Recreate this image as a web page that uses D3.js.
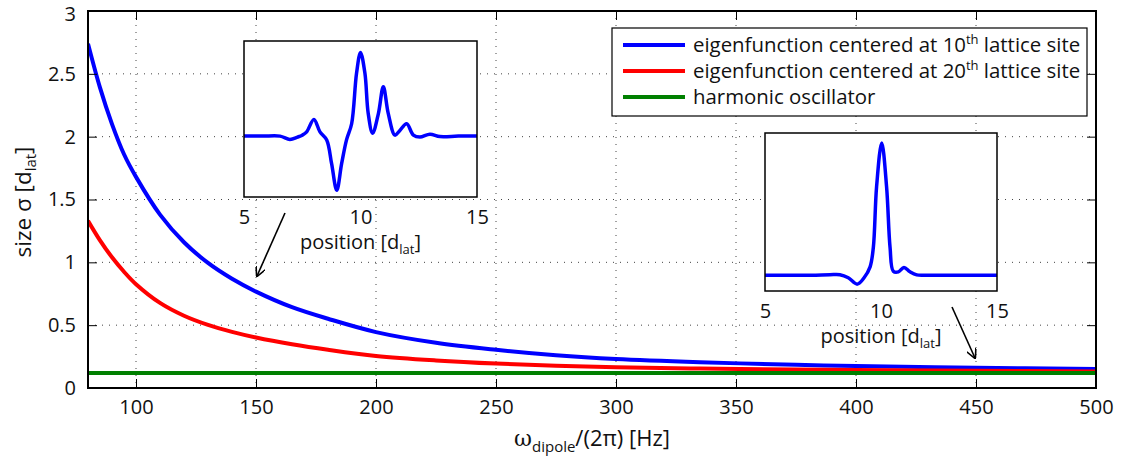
<!DOCTYPE html>
<html><head><meta charset="utf-8">
<script src="https://cdn.jsdelivr.net/npm/d3@7"></script>
<style>
body{margin:0;background:#fff;}
text{font-family:"Open Sans",sans-serif;fill:#111;}
</style></head>
<body><svg id="c" width="1123" height="461"></svg>
<script>
// ---- data ----
const freq = [80,85,90,95,100,110,120,130,140,150,165,180,200,225,250,275,300,335,375,400,450,500];
const sigma10 = [2.74,2.39,2.10,1.86,1.68,1.38,1.16,0.995,0.869,0.767,0.643,0.551,0.445,0.36,0.304,0.26,0.23,0.205,0.185,0.175,0.161,0.151];
const sigma20 = [1.331,1.175,1.04,0.925,0.826,0.677,0.575,0.502,0.447,0.402,0.348,0.304,0.255,0.219,0.194,0.177,0.165,0.155,0.147,0.143,0.137,0.132];
const sigmaHO = [0.119,0.119,0.119,0.119,0.119,0.119,0.119,0.119,0.119,0.119,0.119,0.119,0.119,0.119,0.119,0.119,0.119,0.119,0.119,0.119,0.119,0.119];
const xTicks = [100,150,200,250,300,350,400,450,500];
const yTicks = [0,0.5,1,1.5,2,2.5,3];
const seriesNames = ["eigenfunction centered at 10","eigenfunction centered at 20","harmonic oscillator"];
const seriesColors = ["#0000ff","#ff0000","#008000"];

const inset1Pos = [5,5.8,6.55,6.97,7.3,7.5,7.69,8.0,8.26,8.55,8.76,8.98,9.19,9.4,9.62,9.83,10.0,10.19,10.33,10.52,10.77,10.98,11.19,11.48,11.69,11.98,12.27,12.55,12.98,13.41,14.2,15];
const inset1Val = [0,0,0,-0.035,-0.01,0.01,0.045,0.175,0.045,-0.04,-0.29,-0.57,-0.29,-0.04,0.13,0.66,0.88,0.66,0.24,0.03,0.24,0.52,0.24,0.01,0.06,0.13,0.01,-0.01,0.02,-0.005,0,0];
const inset2Pos = [5,6,7,7.8,8.23,8.59,8.98,9.27,9.53,9.67,9.81,10.03,10.24,10.39,10.53,10.75,10.99,11.25,11.54,12,13,14,15];
const inset2Val = [0,0,0,0.003,0.003,-0.02,-0.068,-0.02,0.063,0.21,0.67,1.0,0.67,0.21,0.03,0.025,0.058,0.025,0.002,0,0,0,0];
const insetTicks = [5,10,15];

// ---- layout ----
const svg = d3.select("#c");
const L=88, R=1096, T=11, B=388;
const x = d3.scaleLinear().domain([80,500]).range([L,R]);
const y = d3.scaleLinear().domain([0,3]).range([B,T]);
const FS = 20;

// grid
const grid = svg.append("g").attr("stroke","#444").attr("stroke-width",1).attr("stroke-dasharray","1,6");
xTicks.filter(v=>v<500).forEach(v=>grid.append("line").attr("x1",x(v)).attr("x2",x(v)).attr("y1",T).attr("y2",B));
yTicks.filter(v=>v>0&&v<3).forEach(v=>grid.append("line").attr("x1",L).attr("x2",R).attr("y1",y(v)).attr("y2",y(v)));

// curves
svg.append("clipPath").attr("id","pc").append("rect").attr("x",L).attr("y",T).attr("width",R-L).attr("height",B-T);
const line = d3.line().x((d,i)=>x(freq[i])).y(d=>y(d)).curve(d3.curveCatmullRom.alpha(0.5));
[sigma10,sigma20,sigmaHO].forEach((s,k)=>{
  svg.append("path").attr("d",line(s)).attr("fill","none").attr("stroke",seriesColors[k]).attr("stroke-width",4).attr("clip-path","url(#pc)");
});

// axes box and ticks
const ax = svg.append("g");
const xb = d3.axisBottom(x).tickValues(xTicks).tickSize(-9).tickPadding(12).tickFormat(d3.format("d"));
const xt = d3.axisTop(x).tickValues(xTicks).tickSize(-9).tickFormat("");
const yl = d3.axisLeft(y).tickValues(yTicks).tickSize(-9).tickPadding(12).tickFormat(d=>d);
const yr = d3.axisRight(y).tickValues(yTicks).tickSize(-9).tickFormat("");
function style(g){g.selectAll(".domain").remove();g.selectAll("line").attr("stroke","#000").attr("stroke-width",1);g.selectAll("text").attr("font-size",FS).attr("font-family","Open Sans").attr("fill","#111");}
ax.append("g").attr("transform",`translate(0,${B})`).call(xb).call(style);
ax.append("g").attr("transform",`translate(0,${T})`).call(xt).call(style);
ax.append("g").attr("transform",`translate(${L},0)`).call(yl).call(style).selectAll("text").filter(d=>d===3).attr("dy","0.45em");
ax.append("rect").attr("x",L).attr("y",T).attr("width",R-L).attr("height",B-T).attr("fill","none").attr("stroke","#000").attr("stroke-width",2);
ax.append("g").attr("transform",`translate(${R},0)`).call(yr).call(style);

// axis labels
const xl = svg.append("text").attr("x",592).attr("y",446).attr("text-anchor","middle").attr("font-size",22);
xl.append("tspan").text("ω").attr("font-family","DejaVu Serif");
xl.append("tspan").text("dipole").attr("font-size",15).attr("dy",6);
xl.append("tspan").text("/(2π) [Hz]").attr("dy",-6);
const ylab = svg.append("text").attr("transform","translate(31,202) rotate(-90)").attr("text-anchor","middle").attr("font-size",22.5);
ylab.append("tspan").text("size σ [d");
ylab.append("tspan").text("lat").attr("font-size",15).attr("dy",5);
ylab.append("tspan").text("]").attr("dy",-5);

// legend
const lg = svg.append("g");
lg.append("rect").attr("x",612).attr("y",28).attr("width",475).attr("height",88).attr("fill","#fff").attr("stroke","#000").attr("stroke-width",1.2);
const sups=["th","th",null];
seriesNames.forEach((n,i)=>{
  const yy = 45 + i*26;
  lg.append("line").attr("x1",623).attr("x2",685).attr("y1",yy).attr("y2",yy).attr("stroke",seriesColors[i]).attr("stroke-width",4);
  const t = lg.append("text").attr("x",693).attr("y",yy+7).attr("font-size",20.4);
  if(sups[i]){
    t.append("tspan").text(n);
    t.append("tspan").text(sups[i]).attr("font-size",13).attr("dy",-8);
    t.append("tspan").text(" lattice site").attr("dy",8);
  } else t.text(n);
});

// insets
function inset(x0,y0,x1,y1,dom,pos,val){
  const g = svg.append("g");
  const ix = d3.scaleLinear().domain([5,15]).range([x0,x1]);
  const iy = d3.scaleLinear().domain(dom).range([y1,y0]);
  g.append("rect").attr("x",x0).attr("y",y0).attr("width",x1-x0).attr("height",y1-y0).attr("fill","#fff");
  const l = d3.line().x((d,i)=>ix(pos[i])).y(d=>iy(d)).curve(d3.curveCatmullRom.alpha(0.5));
  g.append("path").attr("d",l(val)).attr("fill","none").attr("stroke","#0000ff").attr("stroke-width",3.5).attr("stroke-linejoin","round");
  g.append("rect").attr("x",x0).attr("y",y0).attr("width",x1-x0).attr("height",y1-y0).attr("fill","none").attr("stroke","#000").attr("stroke-width",1.5);
  const a = d3.axisBottom(ix).tickValues(insetTicks).tickSize(0).tickPadding(13).tickFormat(d3.format("d"));
  g.append("g").attr("transform",`translate(0,${y1})`).call(a).call(style);
  const t = g.append("text").attr("x",(x0+x1)/2).attr("y",y1+52).attr("text-anchor","middle").attr("font-size",FS);
  t.append("tspan").text("position [d");
  t.append("tspan").text("lat").attr("font-size",13).attr("dy",5);
  t.append("tspan").text("]").attr("dy",-5);
}
inset(244,41,477,197,[-0.64,1.0],inset1Pos,inset1Val);
inset(765,133,997,291,[-0.12,1.075],inset2Pos,inset2Val);

// arrows
svg.append("defs").append("marker").attr("id","ah").attr("viewBox","0 0 10 10").attr("refX",9).attr("refY",5)
  .attr("markerWidth",10).attr("markerHeight",10).attr("markerUnits","userSpaceOnUse").attr("orient","auto")
  .append("path").attr("d","M0,0 L10,5 L0,10").attr("fill","none").attr("stroke","#000").attr("stroke-width",1.6);
svg.append("line").attr("x1",285).attr("y1",213).attr("x2",257).attr("y2",276).attr("stroke","#000").attr("stroke-width",1.6).attr("marker-end","url(#ah)");
svg.append("line").attr("x1",952).attr("y1",307).attr("x2",975).attr("y2",358).attr("stroke","#000").attr("stroke-width",1.6).attr("marker-end","url(#ah)");
</script></body></html>
